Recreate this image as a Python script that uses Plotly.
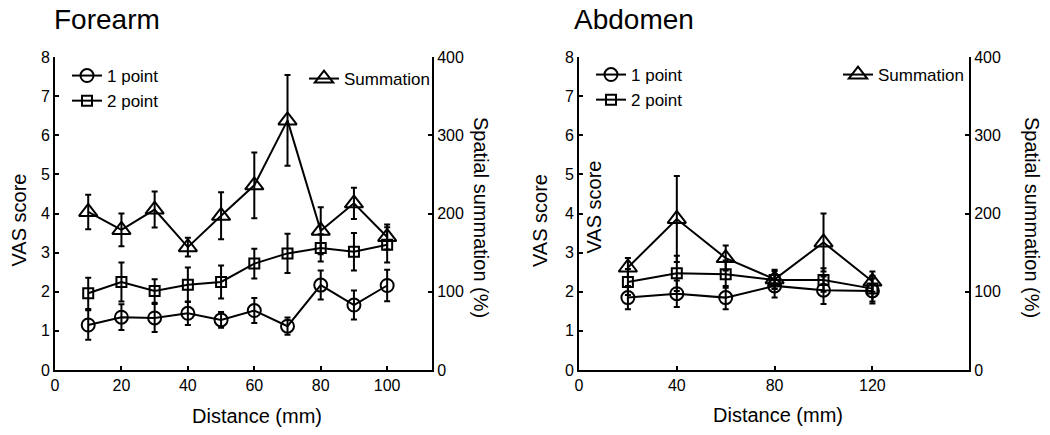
import plotly.graph_objects as go

# ---------------- data ----------------
dist_fore = [10, 20, 30, 40, 50, 60, 70, 80, 90, 100]
fore_1pt = [1.15, 1.35, 1.33, 1.45, 1.28, 1.52, 1.12, 2.17, 1.66, 2.16]
fore_1pt_err = [0.38, 0.33, 0.36, 0.30, 0.20, 0.32, 0.22, 0.37, 0.37, 0.40]
fore_2pt = [1.96, 2.25, 2.02, 2.18, 2.25, 2.72, 2.98, 3.12, 3.02, 3.20]
fore_2pt_err = [0.40, 0.50, 0.30, 0.44, 0.42, 0.38, 0.50, 0.35, 0.48, 0.45]
fore_sum = [202, 179, 205, 157, 197, 236, 319, 178, 213, 170]
fore_sum_err = [22, 21, 23, 12, 30, 42, 58, 30, 20, 16]

dist_abd = [20, 40, 60, 80, 100, 120]
abd_1pt = [1.85, 1.95, 1.85, 2.15, 2.04, 2.02]
abd_1pt_err = [0.30, 0.34, 0.30, 0.30, 0.35, 0.32]
abd_2pt = [2.25, 2.47, 2.45, 2.30, 2.30, 2.08]
abd_2pt_err = [0.33, 0.45, 0.35, 0.23, 0.30, 0.33]
abd_sum = [131, 193, 143, 116, 163, 113]
abd_sum_err = [12, 55, 16, 12, 37, 13]

panel_titles = ["Forearm", "Abdomen"]
x_title = "Distance (mm)"
y_title = "VAS score"
y2_title = "Spatial summation (%)"
names = ["1 point", "2 point", "Summation"]

FONT = "Arial, Liberation Sans, Helvetica, sans-serif"
W, H = 1050, 435


def px(x):
    return x / W


def py(y):
    return 1 - y / H


fig = go.Figure()


def add_series(x, y, err, name, symbol, size, xa, ya, legend):
    fig.add_trace(go.Scatter(
        x=x, y=y, name=name, mode="lines+markers",
        xaxis=xa, yaxis=ya, legend=legend,
        line=dict(color="black", width=2),
        marker=dict(symbol=symbol, size=size, color="black",
                    line=dict(color="black", width=2)),
        error_y=dict(type="data", array=err, visible=True,
                     color="black", thickness=2, width=3),
    ))


add_series(dist_fore, fore_1pt, fore_1pt_err, names[0], "circle-open", 13, "x", "y", "legend")
add_series(dist_fore, fore_2pt, fore_2pt_err, names[1], "square-open", 10, "x", "y", "legend")
add_series(dist_fore, fore_sum, fore_sum_err, names[2], "triangle-up-open", 16, "x", "y2", "legend2")
add_series(dist_abd, abd_1pt, abd_1pt_err, names[0], "circle-open", 13, "x2", "y3", "legend3")
add_series(dist_abd, abd_2pt, abd_2pt_err, names[1], "square-open", 10, "x2", "y3", "legend3")
add_series(dist_abd, abd_sum, abd_sum_err, names[2], "triangle-up-open", 16, "x2", "y4", "legend4")

yb, yt = py(370), py(57)
axcommon = dict(showline=True, linecolor="black", linewidth=2, ticks="inside",
                ticklen=4, tickwidth=2, tickcolor="black", showgrid=False,
                zeroline=False, tickfont=dict(family=FONT, size=16, color="black"),
                mirror=False, automargin=False)

fig.update_layout(
    template="none",
    width=W, height=H, margin=dict(l=0, r=0, t=0, b=0, autoexpand=False),
    paper_bgcolor="white", plot_bgcolor="white",
    font=dict(family=FONT, color="black"),
    xaxis=dict(domain=[px(55), px(432)], range=[0, 113.5], tickvals=[0, 20, 40, 60, 80, 100],
               anchor="y", **axcommon),
    yaxis=dict(domain=[yb, yt], range=[0, 8], dtick=1, anchor="x", **axcommon),
    yaxis2=dict(range=[0, 400], dtick=100, overlaying="y", side="right", anchor="x", **axcommon),
    xaxis2=dict(domain=[px(579), px(969)], range=[0, 159.5], tickvals=[0, 40, 80, 120],
                anchor="y3", **axcommon),
    yaxis3=dict(domain=[yb, yt], range=[0, 8], dtick=1, anchor="x2", **axcommon),
    yaxis4=dict(range=[0, 400], dtick=100, overlaying="y3", side="right", anchor="x2", **axcommon),
)

legcommon = dict(bgcolor="rgba(0,0,0,0)", borderwidth=0, font=dict(family=FONT, size=17, color="black"),
                 xanchor="left", yanchor="top", tracegroupgap=0, itemwidth=30)
fig.update_layout(
    legend=dict(x=px(67), y=py(58), **legcommon),
    legend2=dict(x=px(304), y=py(61), **legcommon),
    legend3=dict(x=px(591), y=py(57), **legcommon),
    legend4=dict(x=px(838), y=py(57), **legcommon),
)

ann = []


def text(s, x, y, size, angle=0, xanchor="center"):
    ann.append(dict(text=s, x=px(x), y=py(y), xref="paper", yref="paper",
                    xanchor=xanchor, yanchor="middle", showarrow=False, textangle=angle,
                    font=dict(family=FONT, size=size, color="black")))


text(panel_titles[0], 52, 20, 28, xanchor="left")
text(panel_titles[1], 572, 20, 28, xanchor="left")
text(x_title, 257, 416, 20)
text(x_title, 778, 415, 20)
text(y_title, 18.5, 220, 20, -90)
text(y_title, 540, 221, 20, -90)
text(y_title, 593, 207.5, 20, -90)
text(y2_title, 481, 217, 20, 90)
text(y2_title, 1032, 217, 20, 90)
fig.update_layout(annotations=ann)

fig.write_html("out.html",
               config={"displayModeBar": False},
               post_script="document.body.style.margin='0';document.body.style.overflow='hidden';")
